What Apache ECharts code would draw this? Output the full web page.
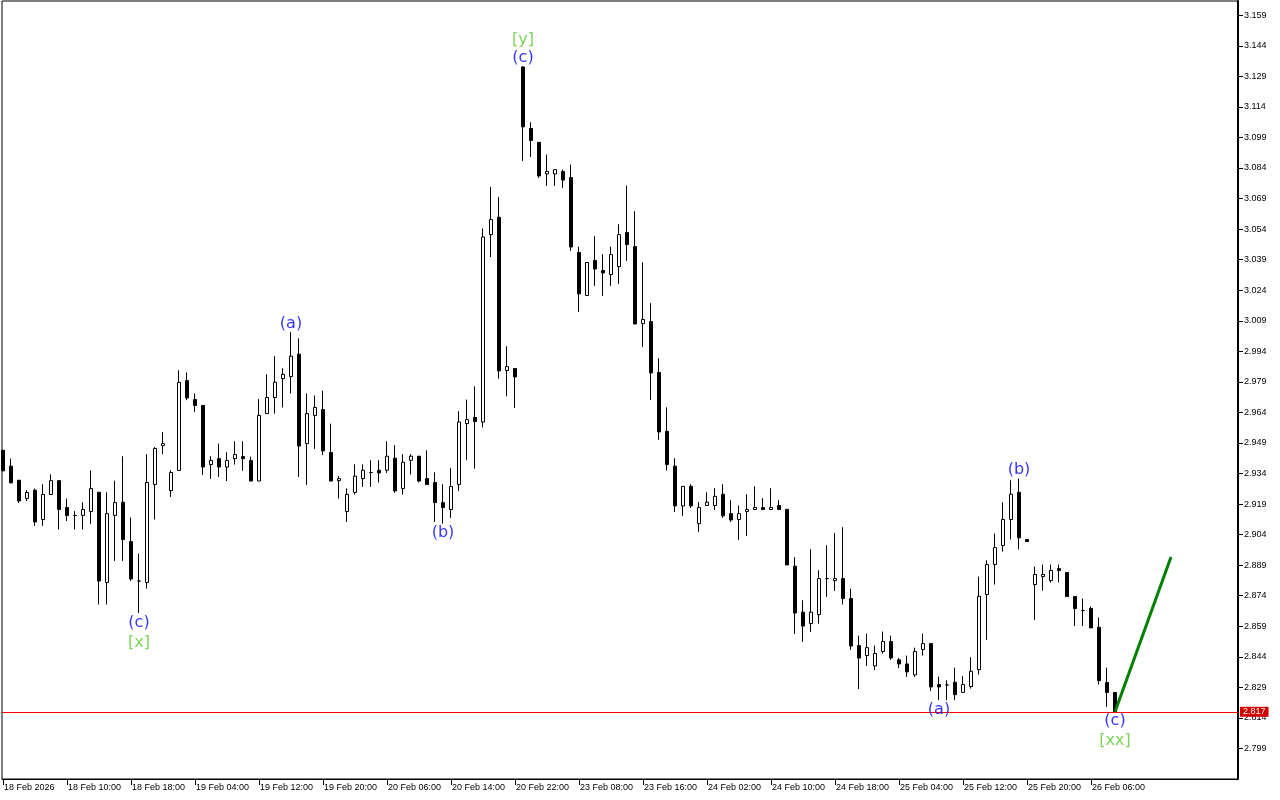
<!DOCTYPE html>
<html>
<head>
<meta charset="utf-8">
<title>Elliott wave chart</title>
<script src="https://cdn.jsdelivr.net/npm/echarts@6/dist/echarts.min.js"></script>
<style>
    html, body { margin: 0; padding: 0; background: #fff; }
    #chart { width: 1280px; height: 800px; }
</style>
</head>
<body>
<div id="chart"></div>
<script>
    //time axis labels, one every 8 bars
    var timeLabels = ['18 Feb 2026', '18 Feb 10:00', '18 Feb 18:00', '19 Feb 04:00', '19 Feb 12:00', '19 Feb 20:00',
        '20 Feb 06:00', '20 Feb 14:00', '20 Feb 22:00', '23 Feb 08:00', '23 Feb 16:00', '24 Feb 02:00',
        '24 Feb 10:00', '24 Feb 18:00', '25 Feb 04:00', '25 Feb 12:00', '25 Feb 20:00', '26 Feb 06:00'];
    var labelStep = 8;

    //hourly bars
    var opens = [
        2.9454, 2.9376, 2.9307, 2.9217, 2.9258, 2.9114, 2.9237, 2.9305, 2.9173, 2.9134,
        2.9134, 2.9153, 2.9248, 2.8805, 2.9134, 2.9199, 2.9006, 2.8812, 2.8805, 2.9286,
        2.9477, 2.9256, 2.9355, 2.9796, 2.9703, 2.9674, 2.9384, 2.9413, 2.9372, 2.9413,
        2.9423, 2.9404, 2.9303, 2.9634, 2.9713, 2.9806, 2.9816, 2.9926, 2.9487, 2.9625,
        2.9654, 2.9443, 2.9305, 2.9153, 2.9247, 2.9315, 2.9345, 2.9356, 2.9356, 2.9415,
        2.9266, 2.9405, 2.9425, 2.9315, 2.9296, 2.9197, 2.9163, 2.9286, 2.9585, 2.9615,
        2.9593, 3.0513, 3.0598, 2.9846, 2.9855, 3.1336, 3.1034, 3.0966, 3.0811, 3.0811,
        3.0823, 3.0793, 3.0425, 3.0214, 3.0386, 3.0337, 3.0317, 3.0356, 3.0523, 3.0454,
        3.0076, 3.0086, 2.9836, 2.9547, 2.9376, 2.9181, 2.9277, 2.9094, 2.9183, 2.9183,
        2.9238, 2.9143, 2.9114, 2.9153, 2.9163, 2.9173, 2.9163, 2.9183, 2.9164, 2.8885,
        2.8659, 2.8603, 2.8647, 2.8824, 2.8814, 2.8824, 2.8726, 2.8495, 2.8446, 2.8395,
        2.8466, 2.8515, 2.8425, 2.8405, 2.8351, 2.8476, 2.8505, 2.8304, 2.8302, 2.8315,
        2.8265, 2.8294, 2.8377, 2.8746, 2.8893, 2.8986, 2.9114, 2.9248, 2.9016, 2.8795,
        2.8834, 2.8814, 2.8873, 2.8854, 2.8736, 2.8667, 2.8677, 2.8585, 2.8314, 2.8265
    ];
    var highs = [
        2.9454, 2.9413, 2.9307, 2.9258, 2.9266, 2.9287, 2.9336, 2.9305, 2.9217, 2.9155,
        2.9199, 2.9355, 2.9248, 2.9248, 2.9305, 2.9425, 2.9124, 2.8947, 2.9435, 2.9469,
        2.9544, 2.9356, 2.9847, 2.9836, 2.9733, 2.9674, 2.9425, 2.9487, 2.9444, 2.9498,
        2.9498, 2.9423, 2.9705, 2.9827, 2.9916, 2.9857, 3.0035, 3.0004, 2.9733, 2.9723,
        2.9747, 2.9585, 2.9327, 2.9266, 2.9385, 2.9385, 2.9405, 2.9405, 2.9498, 2.9479,
        2.9435, 2.9435, 2.9425, 2.9454, 2.9346, 2.9287, 2.9366, 2.9646, 2.9703, 2.9768,
        3.0543, 3.0747, 3.0698, 2.9965, 2.9855, 3.1340, 3.1065, 3.0966, 3.0906, 3.0832,
        3.0832, 3.0857, 3.0454, 3.0376, 3.0505, 3.0417, 3.0454, 3.0564, 3.0754, 3.0628,
        3.0377, 3.0176, 2.9906, 2.9665, 2.9415, 2.9277, 2.9287, 2.9200, 2.9248, 2.9268,
        2.9287, 2.9209, 2.9183, 2.9238, 2.9277, 2.9219, 2.9268, 2.9209, 2.9164, 2.8929,
        2.8718, 2.8968, 2.8865, 2.8988, 2.9048, 2.9076, 2.8775, 2.8544, 2.8554, 2.8495,
        2.8564, 2.8544, 2.8434, 2.8446, 2.8485, 2.8554, 2.8505, 2.8343, 2.8325, 2.8387,
        2.8345, 2.8438, 2.8834, 2.8914, 2.9045, 2.9199, 2.9307, 2.9315, 2.9016, 2.8883,
        2.8893, 2.8893, 2.8893, 2.8854, 2.8736, 2.8726, 2.8687, 2.8633, 2.8387, 2.8265
    ];
    var lows = [
        2.9353, 2.9292, 2.9195, 2.9205, 2.9083, 2.9083, 2.9237, 2.9065, 2.9107, 2.9065,
        2.9065, 2.9092, 2.8697, 2.8697, 2.8911, 2.8911, 2.8812, 2.8655, 2.8775, 2.9114,
        2.9435, 2.9225, 2.9355, 2.9700, 2.9642, 2.9333, 2.9313, 2.9323, 2.9303, 2.9384,
        2.9353, 2.9303, 2.9303, 2.9634, 2.9634, 2.9664, 2.9733, 2.9323, 2.9284, 2.9461,
        2.9431, 2.9303, 2.9217, 2.9102, 2.9237, 2.9274, 2.9274, 2.9296, 2.9343, 2.9245,
        2.9237, 2.9335, 2.9296, 2.9286, 2.9102, 2.9094, 2.9122, 2.9254, 2.9405, 2.9364,
        2.9566, 3.0403, 2.9806, 2.9719, 2.9662, 3.0875, 3.0894, 3.0791, 3.0752, 3.0752,
        3.0742, 3.0433, 3.0133, 3.0214, 3.0261, 3.0212, 3.0261, 3.0271, 3.0384, 3.0074,
        2.9961, 2.9701, 2.9505, 2.9355, 2.9151, 2.9132, 2.9171, 2.9053, 2.9183, 2.9161,
        2.9122, 2.9102, 2.9014, 2.9033, 2.9163, 2.9163, 2.9163, 2.9163, 2.8891, 2.8552,
        2.8513, 2.8562, 2.8603, 2.8734, 2.8763, 2.8697, 2.8474, 2.8282, 2.8395, 2.8375,
        2.8456, 2.8425, 2.8385, 2.8341, 2.8341, 2.8446, 2.8272, 2.8227, 2.8227, 2.8227,
        2.8265, 2.8284, 2.8353, 2.8523, 2.8795, 2.8957, 2.9016, 2.8967, 2.9006, 2.8621,
        2.8765, 2.8805, 2.8805, 2.8736, 2.8591, 2.8591, 2.8582, 2.8304, 2.8194, 2.8170
    ];
    var closes = [
        2.9353, 2.9294, 2.9205, 2.9247, 2.9102, 2.9237, 2.9305, 2.9163, 2.9134, 2.9134,
        2.9163, 2.9266, 2.8812, 2.9143, 2.9197, 2.9016, 2.8822, 2.8812, 2.9296, 2.9463,
        2.9487, 2.9345, 2.9787, 2.9711, 2.9674, 2.9372, 2.9404, 2.9372, 2.9404, 2.9433,
        2.9413, 2.9303, 2.9625, 2.9713, 2.9788, 2.9827, 2.9916, 2.9475, 2.9634, 2.9664,
        2.9451, 2.9303, 2.9315, 2.9238, 2.9327, 2.9356, 2.9345, 2.9343, 2.9425, 2.9254,
        2.9395, 2.9425, 2.9303, 2.9286, 2.9197, 2.9173, 2.9276, 2.9593, 2.9605, 2.9595,
        3.0501, 3.0587, 2.9844, 2.9865, 2.9814, 3.1042, 3.0975, 3.0801, 3.0823, 3.0832,
        3.0781, 3.0452, 3.0222, 3.0376, 3.0344, 3.0325, 3.0415, 3.0513, 3.0464, 3.0074,
        3.0096, 2.9834, 2.9544, 2.9384, 2.9181, 2.9277, 2.9181, 2.9173, 2.9199, 2.9228,
        2.9132, 2.9112, 2.9143, 2.9163, 2.9173, 2.9163, 2.9173, 2.9163, 2.8891, 2.8655,
        2.8591, 2.8659, 2.8824, 2.8824, 2.8824, 2.8726, 2.8493, 2.8434, 2.8485, 2.8456,
        2.8515, 2.8434, 2.8405, 2.8366, 2.8466, 2.8505, 2.8292, 2.8292, 2.8302, 2.8254,
        2.8304, 2.8369, 2.8737, 2.8893, 2.8976, 2.9114, 2.9238, 2.9024, 2.9006, 2.8844,
        2.8844, 2.8864, 2.8864, 2.8736, 2.8677, 2.8667, 2.8582, 2.8323, 2.8265, 2.8170
    ];
    var lastPrice = 2.817;

    //wave marks: bar index, text, at high (true) or low (false)
    var minorWaveBars = [17, 36, 55, 65, 117, 127, 139];
    var minorWaveTexts = ['(c)', '(a)', '(b)', '(c)', '(a)', '(b)', '(c)'];
    var minorWaveAtHigh = [false, true, false, true, false, true, false];
    var majorWaveBars = [17, 65, 139];
    var majorWaveTexts = ['[x]', '[y]', '[xx]'];
    var majorWaveAtHigh = [false, true, false];

    //projection line
    var trendBars = [139, 146];
    var trendPrices = [2.817, 2.893];

    //build series data
    var candleData = [];
    for (var i = 0; i < opens.length; i++) {
        candleData.push([i, opens[i], closes[i], lows[i], highs[i]]);
    }
    function waveItems(bars, texts, atHigh, color, distTop, distBottom) {
        var items = [];
        for (var k = 0; k < bars.length; k++) {
            var b = bars[k];
            items.push({
                value: [b, atHigh[k] ? highs[b] : lows[b]],
                label: {
                    formatter: texts[k],
                    position: atHigh[k] ? 'top' : 'bottom',
                    distance: atHigh[k] ? distTop : distBottom,
                    color: color
                }
            });
        }
        return items;
    }
    var trendData = [];
    for (var j = 0; j < trendBars.length; j++) {
        trendData.push([trendBars[j], trendPrices[j]]);
    }
    //x ticks only where a time label sits
    var timeTickValues = [];
    for (var t = 0; t < timeLabels.length; t++) {
        timeTickValues.push(t * labelStep);
    }

    var axisFont = 'Liberation Sans';
    var option = {
        animation: false,
        backgroundColor: '#fff',
        grid: {
            left: 2,
            right: 42,
            top: 1,
            bottom: 21,
            show: true,
            borderColor: '#000',
            borderWidth: 1,
            backgroundColor: '#fff'
        },
        xAxis: {
            type: 'value',
            min: -0.125,
            max: 154.375,
            splitLine: { show: false },
            axisLine: { show: true, onZero: false, lineStyle: { color: '#000', width: 1 } },
            axisTick: { show: true, length: 6, customValues: timeTickValues, lineStyle: { color: '#000' } },
            axisLabel: {
                customValues: timeTickValues,
                color: '#000',
                fontFamily: axisFont,
                fontSize: 9,
                align: 'left',
                margin: 4,
                padding: [0, 0, 0, 1],
                formatter: function (v) {
                    var idx = Math.round(v);
                    if (idx % labelStep !== 0)
                        return '';
                    return timeLabels[idx / labelStep] || '';
                }
            }
        },
        yAxis: {
            type: 'value',
            position: 'right',
            min: 2.784,
            max: 3.166,
            interval: 0.015,
            splitLine: { show: false },
            axisLine: { show: true, onZero: false, lineStyle: { color: '#000', width: 2 } },
            axisTick: { show: true, length: 5, lineStyle: { color: '#000' } },
            axisLabel: {
                color: '#000',
                fontFamily: axisFont,
                fontSize: 9,
                margin: 6,
                showMinLabel: false,
                showMaxLabel: false,
                formatter: function (v) {
                    return v.toFixed(3);
                }
            }
        },
        series: [
            {
                type: 'candlestick',
                data: candleData,
                encode: { x: 0, y: [1, 2, 3, 4] },
                barWidth: 4,
                itemStyle: {
                    color: '#fff',
                    color0: '#000',
                    borderColor: '#000',
                    borderColor0: '#000',
                    borderWidth: 1
                }
            },
            {
                type: 'line',
                data: trendData,
                showSymbol: false,
                clip: false,
                z: 5,
                lineStyle: { color: '#008000', width: 3 },
                markLine: {
                    silent: true,
                    symbol: ['none', 'none'],
                    precision: 3,
                    animation: false,
                    lineStyle: { color: '#ff0000', width: 1, type: 'solid' },
                    label: {
                        show: true,
                        position: 'end',
                        distance: 2,
                        formatter: lastPrice.toFixed(3),
                        color: '#fff',
                        backgroundColor: '#d40000',
                        fontFamily: axisFont,
                        fontSize: 9,
                        padding: [1, 3, 0, 3]
                    },
                    data: [{ yAxis: lastPrice }]
                }
            },
            {
                type: 'scatter',
                symbolSize: 1,
                clip: false,
                silent: true,
                z: 6,
                itemStyle: { color: 'rgba(0,0,0,0)' },
                label: { show: true, fontFamily: 'DejaVu Sans', fontSize: 16 },
                data: waveItems(minorWaveBars, minorWaveTexts, minorWaveAtHigh, '#0000ff', 0, 1)
                    .concat(waveItems(majorWaveBars, majorWaveTexts, majorWaveAtHigh, '#5cc832', 18, 21))
            }
        ]
    };

    var chart = echarts.init(document.getElementById('chart'));
    chart.setOption(option);
</script>
</body>
</html>
